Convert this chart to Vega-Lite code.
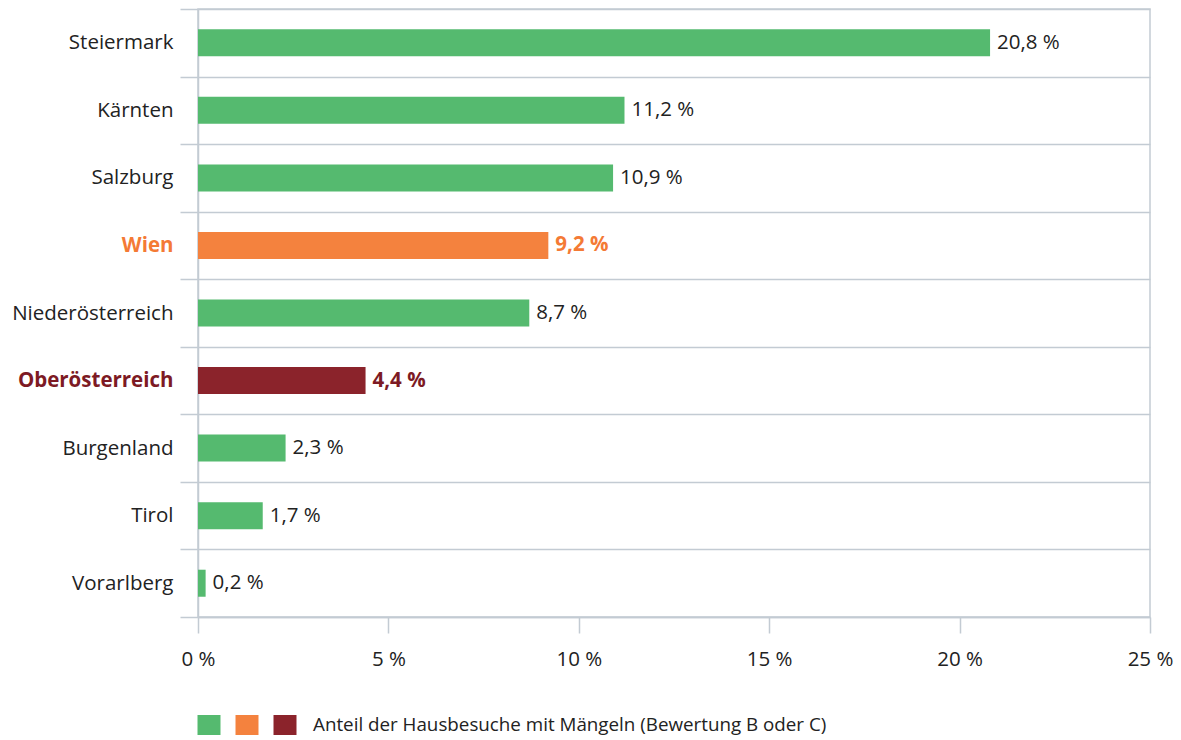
{
  "$schema": "https://vega.github.io/schema/vega-lite/v6.json",
  "width": 952,
  "height": 608,
  "autosize": {"type": "none"},
  "padding": {"left": 198, "top": 9, "right": 31, "bottom": 123},
  "background": "white",
  "config": {
    "view": {"stroke": "#C3CBD3", "strokeWidth": 1.5},
    "font": "Open Sans"
  },
  "data": {
    "values": [
      {"region": "Steiermark", "value": 20.8, "label": "20,8 %", "grp": "a"},
      {"region": "Kärnten", "value": 11.2, "label": "11,2 %", "grp": "a"},
      {"region": "Salzburg", "value": 10.9, "label": "10,9 %", "grp": "a"},
      {"region": "Wien", "value": 9.2, "label": "9,2 %", "grp": "b"},
      {"region": "Niederösterreich", "value": 8.7, "label": "8,7 %", "grp": "a"},
      {"region": "Oberösterreich", "value": 4.4, "label": "4,4 %", "grp": "c"},
      {"region": "Burgenland", "value": 2.3, "label": "2,3 %", "grp": "a"},
      {"region": "Tirol", "value": 1.7, "label": "1,7 %", "grp": "a"},
      {"region": "Vorarlberg", "value": 0.2, "label": "0,2 %", "grp": "a"}
    ]
  },
  "encoding": {
    "y": {
      "field": "region",
      "type": "nominal",
      "sort": null,
      "scale": {"paddingInner": 0, "paddingOuter": 0},
      "axis": {
        "title": null,
        "tickBand": "extent",
        "grid": true,
        "gridColor": "#C3CBD3",
        "gridWidth": 1.5,
        "tickColor": "#C3CBD3",
        "tickWidth": 1.5,
        "tickSize": 18,
        "domainColor": "#C3CBD3",
        "domainWidth": 1.5,
        "labelFontSize": 20.5,
        "labelPadding": 7,
        "labelColor": {"condition": [{"test": "datum.value == 'Wien'", "value": "#F47A35"}, {"test": "datum.value == 'Oberösterreich'", "value": "#7D1A24"}], "value": "#222222"},
        "labelFontWeight": {"condition": {"test": "datum.value == 'Wien' || datum.value == 'Oberösterreich'", "value": "bold"}, "value": "normal"}
      }
    }
  },
  "layer": [
    {
      "mark": {"type": "bar", "height": {"band": 0.4}},
      "encoding": {
        "x": {
          "field": "value",
          "type": "quantitative",
          "scale": {"domain": [0, 25], "nice": false},
          "axis": {
            "title": null,
            "values": [0, 5, 10, 15, 20, 25],
            "labelExpr": "datum.value + ' %'",
            "labelFlush": false,
            "grid": false,
            "domainColor": "#C3CBD3",
            "domainWidth": 1.5,
            "tickColor": "#C3CBD3",
            "tickWidth": 1.5,
            "tickSize": 16,
            "labelFontSize": 20.5,
            "labelColor": "#222222",
            "labelPadding": 16
          }
        },
        "fill": {
          "field": "grp",
          "type": "nominal",
          "scale": {"domain": ["a", "b", "c"], "range": ["#55BA6F", "#F4823E", "#8B232B"]},
          "legend": {
            "title": null,
            "orient": "none",
            "legendX": 1,
            "legendY": 706,
            "direction": "horizontal",
            "symbolType": "M-1.15,-1H1.15V1H-1.15Z",
            "symbolSize": 400,
            "symbolStrokeWidth": 0,
            "symbolOpacity": 1,
            "labelExpr": "datum.value == 'c' ? 'Anteil der Hausbesuche mit Mängeln (Bewertung B oder C)' : ''",
            "labelLimit": 0,
            "labelFontSize": 18.8,
            "labelColor": "#222222",
            "labelOffset": 18,
            "columnPadding": -4
          }
        }
      }
    },
    {
      "transform": [{"filter": "datum.grp == 'a'"}],
      "mark": {"type": "text", "align": "left", "baseline": "middle", "dx": 7, "fontSize": 20.5, "color": "#222222"},
      "encoding": {
        "x": {"field": "value", "type": "quantitative"},
        "text": {"field": "label"}
      }
    },
    {
      "transform": [{"filter": "datum.grp != 'a'"}],
      "mark": {"type": "text", "align": "left", "baseline": "middle", "dx": 7, "fontSize": 20.5, "fontWeight": "bold"},
      "encoding": {
        "x": {"field": "value", "type": "quantitative"},
        "text": {"field": "label"},
        "color": {"condition": {"test": "datum.grp == 'b'", "value": "#F47A35"}, "value": "#7D1A24"}
      }
    }
  ]
}
